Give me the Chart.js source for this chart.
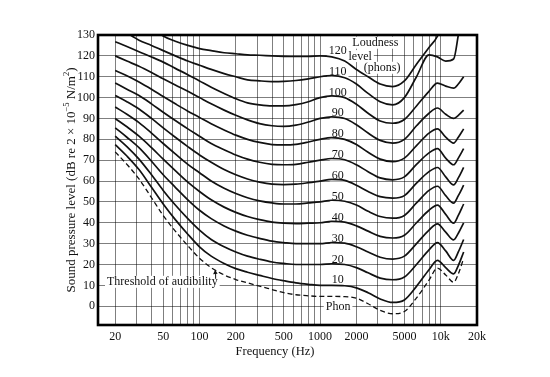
<!DOCTYPE html>
<html><head><meta charset="utf-8">
<script src="https://cdn.jsdelivr.net/npm/chart.js@4/dist/chart.umd.min.js"></script>
<style>html,body{margin:0;padding:0;background:#fff;}canvas{display:block;}</style>
</head><body>
<canvas id="c" width="550" height="377"></canvas>
<script>
// ---- data (frequency in Hz, sound pressure level in dB) ----
const freqs = [20,25,31.5,40,50,63,80,100,125,160,200,250,315,400,500,630,800,1000,1250,1600,2000,2500,3150,4000,5000,6300,8000,9400,11000,12800,14000,15500];
const phonLevels = [10,20,30,40,50,60,70,80,90,100,110,120];
const threshold = [74,68,61,52,43.5,36,29,23,18.5,15,12.8,11.2,9.6,8,6.5,5.5,5,4.7,4.7,4.6,3.8,1.2,-2,-3.6,-2.5,4,12.5,18.3,15,11.5,15.5,23];
const phon10  = [77.5,72,65.5,57,49,41.5,34.5,28.5,24,20.5,18,16.3,14.8,13.3,12.2,11.2,10.5,10,10,9.8,8.8,6.5,3.5,1.8,3,9.5,17.5,22,18.5,15.5,19.5,26];
const phon20  = [81.5,76.5,70.5,63,55.5,48.5,42,36.5,32,28.5,26,24,22.5,21.2,20.5,20,20,20,20.3,20,18.5,16,13.5,12.7,14,20,27,30.5,26.5,22,26,32];
const phon30  = [85.5,81,76,69.5,63,57,51,46,42,38.5,36,34,32.5,31.2,30.5,30,30,30,30.5,30.2,28.5,26,23.5,22.6,24,30,36.5,39.5,35.5,31.8,35,40];
const phon40  = [90,86,81.5,76,70.5,65,59.5,55,51,47.5,45,43,41.5,40.3,39.8,39.6,39.8,40,40.7,40.3,38.5,36,33.5,32.7,34,40,46,48.5,44,39.8,43.5,49];
const phon50  = [95.5,92,88,83,78,73,68,64,60,56.5,54,52,50.5,49.5,49,49,49.5,50,50.8,50.3,48.5,45.5,43,42.2,43.5,49.5,55.5,57.5,53,49.4,53,58];
const phon60  = [101,98,94.5,90,85.5,81,76.5,72.5,69,65.5,63,61,59.5,58.5,58.3,58.5,59.2,60,60.8,60.3,58,55,52.5,51.8,53,59,64.5,66.5,62,58.2,61.5,66.5];
const phon70  = [107,104,101,97,93,89,85,81.5,78,75,72.5,70.5,69,68,67.8,68,69,70,70.8,70.2,67.8,64.5,61.5,60.6,62,68,73.5,75.5,71,67.8,71,75.5];
const phon80  = [113,110.5,107.5,104,100.5,97,93.5,90.5,87.5,84.5,82,80,78.5,77.5,77.3,77.6,78.7,80,80.8,80,77.5,73.8,70.5,69.3,71,77,83,85,81,78.2,81,85];
const phon90  = [120,117.5,115,112,109,106,103,100,97,94,91.5,89.3,87.5,86.5,86.2,86.8,88.3,90,90.8,90,87,83,79.5,78.2,80,86.5,92.5,95,92,90,91.5,94];
const phon100 = [126.8,124.5,122,119.5,117,114,111,108,105,102,99.5,97.5,96.5,96,96,96.6,98,100,100.8,100,96.8,92.5,88.8,87.7,89.5,96,103,106.9,105.5,104.5,106.5,110];
const phon110 = [134.5,131,127.5,125,122.5,120,117.5,115.5,113.5,111.5,110,108.5,108,107.7,107.8,108.2,109,110,110.5,109.5,106.5,102,98,96.5,100,110,120.5,119.5,117.5,118.5,130,145];
const phon120 = [150,145,140,134,129.5,127,125,123.5,122.5,121.5,121,120.5,120.3,120,119.8,119.7,119.7,120,119.5,117.5,113.5,110,106.5,105.3,108,116,124,129.5,140,150,155,160];
const phonSeries = [phon10,phon20,phon30,phon40,phon50,phon60,phon70,phon80,phon90,phon100,phon110,phon120];

const xGridValues = [20,30,40,50,60,70,80,90,100,200,300,400,500,600,700,800,900,1000,2000,3000,4000,5000,6000,7000,8000,9000,10000,20000];
const xTickLabels = {20:'20',50:'50',100:'100',200:'200',500:'500',1000:'1000',2000:'2000',5000:'5000',10000:'10k',20000:'20k'};
const yTickValues = [0,10,20,30,40,50,60,70,80,90,100,110,120,130];

const SERIF = '"Liberation Serif", "DejaVu Serif", serif';
const INK = '#111';

const toPoints = vals => freqs.map((f, i) => ({x: f, y: vals[i]}));
const datasets = phonSeries.map((vals, i) => ({
  label: phonLevels[i] + ' phon',
  data: toPoints(vals),
  borderColor: INK, borderWidth: 1.7, pointRadius: 0,
  cubicInterpolationMode: 'monotone', fill: false
}));
datasets.push({
  label: 'Threshold of audibility',
  data: toPoints(threshold),
  borderColor: INK, borderWidth: 1.3, borderDash: [5, 3], pointRadius: 0,
  cubicInterpolationMode: 'monotone', fill: false
});

const annot = {
  id: 'annot',
  beforeDatasetsDraw(chart) {
    const {ctx, scales: {x, y}} = chart;
    ctx.save();
    ctx.font = '12px ' + SERIF;
    ctx.textBaseline = 'middle';
    ctx.textAlign = 'left';
    const put = (text, px, py, align) => {
      const w = ctx.measureText(text).width;
      const left = align === 'left' ? px : px - w / 2;
      ctx.fillStyle = '#fff';
      ctx.fillRect(left - 2, py - 6, w + 4, 12);
      ctx.fillStyle = INK;
      ctx.fillText(text, left, py + 0.5);
      return left + w;
    };
    phonLevels.forEach(p => put(String(p), x.getPixelForValue(1400), y.getPixelForValue(p + 2.7), 'center'));
    put('Loudness', x.getPixelForValue(1850), y.getPixelForValue(126.3), 'left');
    put('level', x.getPixelForValue(1720), y.getPixelForValue(119.9), 'left');
    put('(phons)', x.getPixelForValue(2300), y.getPixelForValue(114.3), 'left');
    const tEnd = put('Threshold of audibility', x.getPixelForValue(17.1), y.getPixelForValue(11.7), 'left');
    put('Phon', x.getPixelForValue(1410), y.getPixelForValue(0), 'center');
    // leader from threshold label to the dashed curve
    const ax = x.getPixelForValue(136), ay = y.getPixelForValue(17.2);
    ctx.strokeStyle = INK; ctx.lineWidth = 1;
    ctx.beginPath(); ctx.moveTo(tEnd - 2, y.getPixelForValue(11.7) - 3); ctx.lineTo(ax, ay + 1); ctx.stroke();
    ctx.beginPath(); ctx.moveTo(ax - 0.5, ay - 0.5); ctx.lineTo(ax - 2.5, ay + 4); ctx.lineTo(ax + 2, ay + 3.5); ctx.closePath(); ctx.fill();
    ctx.restore();
  },
  afterDraw(chart) {
    const {ctx, chartArea: a} = chart;
    ctx.save();
    ctx.strokeStyle = '#000'; ctx.lineWidth = 2.6;
    ctx.strokeRect(a.left, a.top, a.right - a.left, a.bottom - a.top);
    // x title
    ctx.fillStyle = INK;
    ctx.font = '12.5px ' + SERIF;
    ctx.textAlign = 'center'; ctx.textBaseline = 'middle';
    ctx.fillText('Frequency (Hz)', 275, 352);
    // y title (rotated, with superscripts)
    const parts = [
      ['Sound pressure level (dB re 2 \u00D7 10', false],
      ['\u22125', true],
      [' N/m', false],
      ['2', true],
      [')', false]
    ];
    const fBase = '13px ' + SERIF, fSup = '8.5px ' + SERIF;
    let total = 0;
    parts.forEach(([t, s]) => { ctx.font = s ? fSup : fBase; total += ctx.measureText(t).width; });
    ctx.translate(71, 180);
    ctx.rotate(-Math.PI / 2);
    ctx.textAlign = 'left';
    let cx = -total / 2;
    parts.forEach(([t, s]) => {
      ctx.font = s ? fSup : fBase;
      ctx.fillText(t, cx, s ? -4 : 0.5);
      cx += ctx.measureText(t).width;
    });
    ctx.restore();
  }
};

new Chart(document.getElementById('c'), {
  type: 'line',
  data: {datasets},
  options: {
    responsive: false, animation: false, devicePixelRatio: 1,
    layout: {padding: {left: 0, top: 35, right: 73, bottom: 0}},
    plugins: {legend: {display: false}, tooltip: {enabled: false}},
    scales: {
      x: {
        type: 'logarithmic', min: 14.4, max: 20000,
        afterBuildTicks: s => { s.ticks = xGridValues.map(v => ({value: v})); },
        afterFit: s => { s.height = 52; },
        ticks: {autoSkip: false, maxRotation: 0, minRotation: 0, padding: 5, color: INK,
          font: {family: SERIF, size: 12},
          callback: v => xTickLabels[v] !== undefined ? xTickLabels[v] : ''},
        grid: {color: 'rgba(0,0,0,0.5)', lineWidth: 1, drawTicks: false},
        border: {display: false}
      },
      y: {
        type: 'linear', min: -9, max: 130,
        afterBuildTicks: s => { s.ticks = yTickValues.map(v => ({value: v})); },
        afterFit: s => { s.width = 98; },
        ticks: {padding: 3, color: INK, font: {family: SERIF, size: 12}},
        grid: {color: 'rgba(0,0,0,0.5)', lineWidth: 1, drawTicks: false},
        border: {display: false}
      }
    }
  },
  plugins: [annot]
});
</script>
</body></html>
